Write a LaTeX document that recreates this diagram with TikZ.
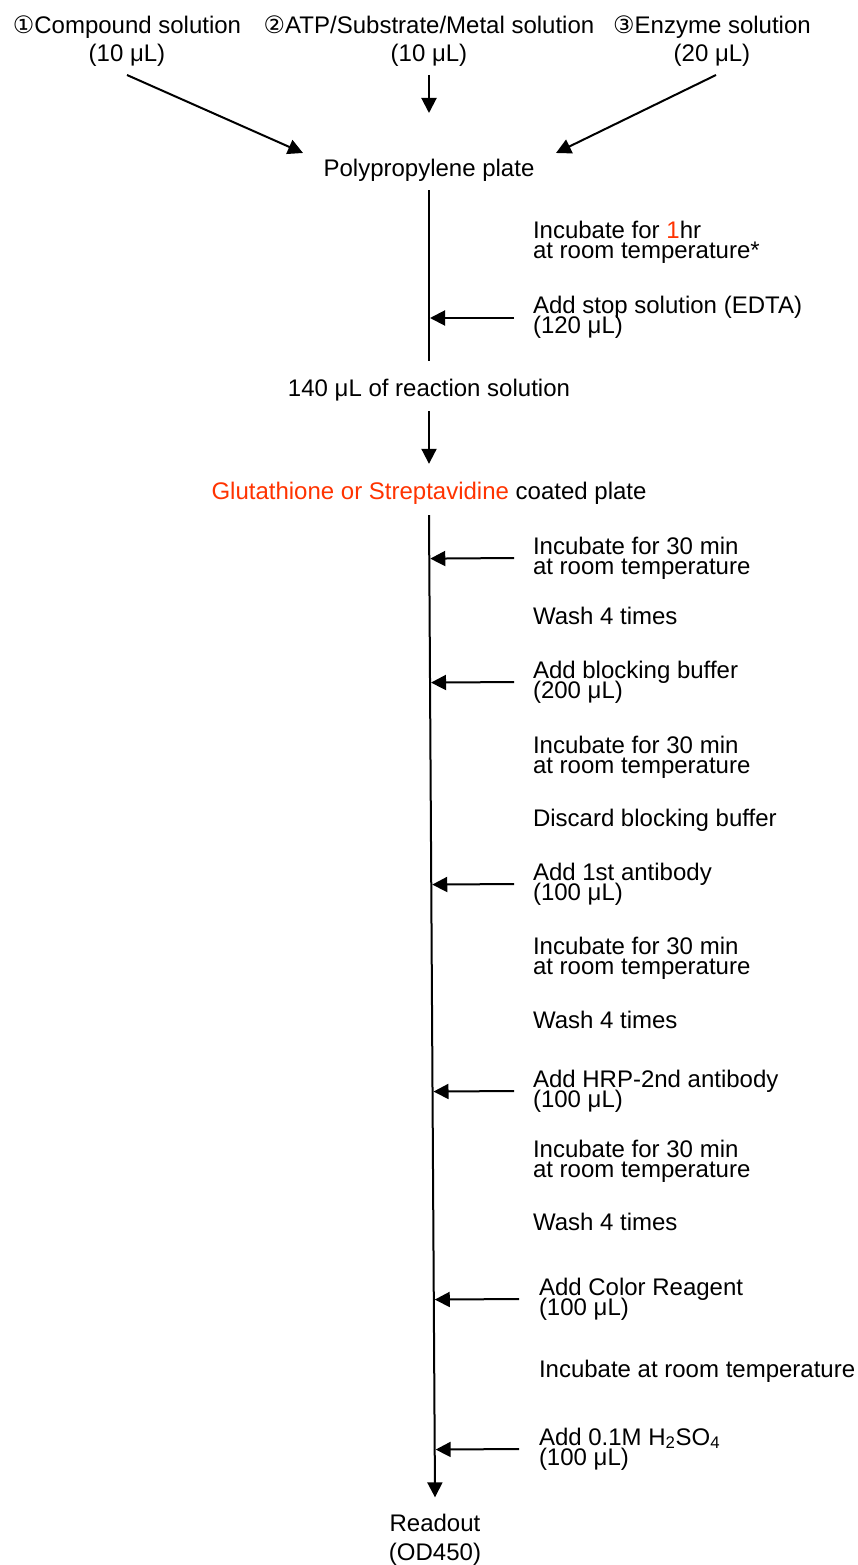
\documentclass[tikz,border=0pt]{standalone}
\usepackage{fontspec}
\setmainfont{Liberation Sans}
\newfontfamily\circfont{DejaVu Sans}
\usetikzlibrary{arrows.meta, positioning, calc}
\definecolor{cred}{HTML}{FF3300}
\lineskiplimit=-100pt
\tikzset{
  every picture/.style={line width=2pt},
  lbl/.style={font=\fontsize{24}{20}\selectfont, inner sep=0pt, align=left, anchor=west},
  ctr/.style={font=\fontsize{24}{20}\selectfont, inner sep=0pt, align=center},
  src/.style={font=\fontsize{24}{28}\selectfont, inner sep=0pt, align=center, anchor=south},
  arrow/.style={-{Triangle[length=15pt, width=15pt]}, line width=2pt},
}

\begin{document}
\begin{tikzpicture}[x=1pt, y=-1pt]
  \useasboundingbox (0,0) rectangle (857,1565);
  % three solutions into the plate
  \node[src] (comp) at (127,67.5) {{\circfont ①}Compound solution\\(10 μL)};
  \node[src] (atp) at (429,67.5) {{\circfont ②}ATP/Substrate/Metal solution\\(10 μL)};
  \node[src] (enz) at (712,67.5) {{\circfont ③}Enzyme solution\\(20 μL)};
  \node[ctr] (plate) at (429,170) {Polypropylene plate};
  \coordinate (inL) at (303,153);
  \coordinate (inM) at (429,113);
  \coordinate (inR) at (556,153);
  \draw[arrow] ([yshift=-7.5pt]comp.south) -- (inL);
  \draw[arrow] ([yshift=-7.5pt]atp.south) -- (inM);
  \draw[arrow] ([yshift=-7.5pt, xshift=4pt]enz.south) -- (inR);
  % reaction
  \node[lbl] (inc0) at (532,242) {Incubate for {\color{cred}1}hr\\at room temperature*};
  \node[lbl] (stop) at (532,317) {Add stop solution (EDTA)\\(120 μL)};
  \node[ctr] (rxn) at (429,390) {140 μL of reaction solution};
  \draw[line width=1.5pt] ([yshift=-8pt]plate.south) coordinate (u1) -- ([yshift=17pt]rxn.north) coordinate (u2);
  \draw[arrow, shorten >=1pt] ([xshift=-18pt, yshift=-1pt]stop.west) -- ($(u1)!([yshift=-1pt]stop.west)!(u2)$);
  \node[ctr] (coat) at (429,493) {{\color{cred}Glutathione or Streptavidine} coated plate};
  \draw[arrow] ([yshift=-9pt]rxn.south) -- ([yshift=17pt]coat.north);
  % detection steps
  \node[lbl] (s1) at (532,558) {Incubate for 30 min\\at room temperature};
  \node[lbl] (s2) at (532,616) {Wash 4 times};
  \node[lbl] (s3) at (532,682) {Add blocking buffer\\(200 μL)};
  \node[lbl] (s4) at (532,757) {Incubate for 30 min\\at room temperature};
  \node[lbl] (s5) at (532,820) {Discard blocking buffer};
  \node[lbl] (s6) at (532,884) {Add 1st antibody\\(100 μL)};
  \node[lbl] (s7) at (532,958) {Incubate for 30 min\\at room temperature};
  \node[lbl] (s8) at (532,1020) {Wash 4 times};
  \node[lbl] (s9) at (532,1091) {Add HRP-2nd antibody\\(100 μL)};
  \node[lbl] (s10) at (532,1161) {Incubate for 30 min\\at room temperature};
  \node[lbl] (s11) at (532,1222) {Wash 4 times};
  \node[lbl] (s12) at (538,1299) {Add Color Reagent\\(100 μL)};
  \node[lbl] (s13) at (538,1371) {Incubate at room temperature};
  \node[lbl] (s14) at (538,1449) {Add 0.1M H\textsubscript{2}SO\textsubscript{4}\\(100 μL)};
  \node[ctr, font=\fontsize{24}{29}\selectfont] (read) at (435,1540) {Readout\\(OD450)};
  \draw[arrow] ([yshift=-10pt]coat.south) coordinate (v1) -- ([yshift=16pt]read.north) coordinate (v2);
  \foreach \s in {s1, s3, s6, s9} {
    \draw[arrow, shorten >=1pt] ([xshift=-18pt]\s.west) -- ($(v1)!(\s.west)!(v2)$);
  }
  \foreach \s in {s12, s14} {
    \draw[arrow, shorten >=1pt] ([xshift=-19pt]\s.west) -- ($(v1)!(\s.west)!(v2)$);
  }
\end{tikzpicture}
\end{document}
